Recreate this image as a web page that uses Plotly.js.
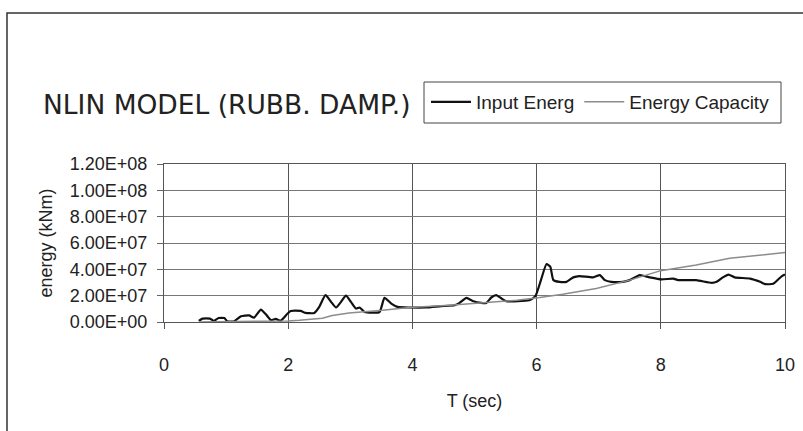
<!DOCTYPE html>
<html>
<head>
<meta charset="utf-8">
<script src="https://cdn.plot.ly/plotly-3.0.1.min.js"></script>
<style>html,body{margin:0;padding:0;background:#fff;}#chart{width:803px;height:431px;}</style>
</head>
<body>
<div id="chart"></div>
<script>
// Time (sec) and energy (kNm) for "Input Energ"
const tInput = [0.56,0.62,0.74,0.80,0.88,0.97,1.02,1.13,1.24,1.37,1.45,1.56,1.64,1.72,1.80,1.88,1.99,2.04,2.20,2.28,2.42,2.50,2.60,2.69,2.77,2.85,2.93,3.01,3.09,3.15,3.23,3.47,3.55,3.66,3.76,3.95,4.22,4.46,4.68,4.76,4.87,4.97,5.11,5.19,5.27,5.35,5.43,5.51,5.88,5.98,6.07,6.16,6.22,6.27,6.37,6.48,6.59,6.69,6.91,7.02,7.10,7.20,7.39,7.50,7.66,7.82,8.01,8.20,8.28,8.57,8.82,8.90,9.00,9.09,9.19,9.44,9.60,9.68,9.81,9.95,10.0];
const eInput = [0.8e6,2.6e6,2.6e6,0.8e6,3.0e6,3.0e6,0.6e6,0.6e6,4.3e6,5.0e6,3.3e6,9.4e6,5.8e6,1.5e6,2.3e6,1.0e6,6.4e6,8.4e6,8.4e6,6.9e6,6.9e6,11.5e6,20.4e6,15.3e6,11.0e6,15.3e6,20.0e6,15.3e6,10.2e6,11.0e6,7.6e6,7.6e6,18.3e6,14.0e6,11.5e6,11.0e6,11.0e6,12.0e6,12.7e6,14.5e6,18.3e6,16.0e6,14.5e6,14.5e6,18.6e6,20.4e6,18.0e6,15.8e6,16.5e6,19.6e6,31.8e6,44.0e6,42.0e6,31.8e6,30.5e6,30.5e6,33.9e6,34.9e6,33.9e6,35.6e6,31.8e6,30.5e6,30.5e6,31.8e6,35.6e6,33.9e6,32.3e6,33.0e6,31.8e6,31.8e6,29.7e6,30.5e6,33.9e6,36.0e6,33.9e6,33.0e6,30.5e6,28.8e6,29.0e6,34.9e6,36.0e6];

// Time (sec) and energy (kNm) for "Energy Capacity"
const tCap = [0.56,1.50,2.00,2.18,2.55,2.71,2.98,3.52,3.95,4.60,5.14,5.68,6.05,6.42,6.96,7.50,8.00,8.57,9.11,9.65,10.0];
const eCap = [0,0.3e6,0.8e6,1.3e6,2.8e6,5.0e6,6.9e6,8.9e6,11.0e6,12.7e6,14.5e6,16.5e6,18.6e6,21.1e6,25.5e6,31.8e6,39.0e6,43.3e6,48.4e6,50.9e6,52.7e6];

// Axis ticks
const xTickVals = [0,2,4,6,8,10];
const yTickVals = [0,2e7,4e7,6e7,8e7,1e8,1.2e8];
const yTickLabels = ["0.00E+00","2.00E+07","4.00E+07","6.00E+07","8.00E+07","1.00E+08","1.20E+08"];

const seriesNames = ["Input Energ","Energy Capacity"];
const chartTitle = "NLIN MODEL (RUBB. DAMP.)";
const xTitle = "T (sec)";
const yTitle = "energy (kNm)";

const W = 803, H = 431;
const M = {l:164, r:18, t:164, b:109};
const pw = W - M.l - M.r, ph = H - M.t - M.b;
const px = v => (v - M.l) / pw;
const py = v => (H - M.b - v) / ph;

const FONT = "Liberation Sans, Arial, sans-serif";
const INK = "#222";

const traces = [
  {x: tInput, y: eInput, name: seriesNames[0], type: "scatter", mode: "lines",
   line: {color: "#111", width: 2.2, shape: "spline", smoothing: 0.5}},
  {x: tCap, y: eCap, name: seriesNames[1], type: "scatter", mode: "lines",
   line: {color: "#8c8c8c", width: 1.5}}
];

const layout = {
  width: W, height: H,
  margin: M,
  paper_bgcolor: "#fff", plot_bgcolor: "#fff",
  font: {family: FONT, color: INK, size: 18},
  title: {text: chartTitle, xref: "container", yref: "container",
          x: 43 / W, xanchor: "left", y: 1 - 105 / H, yanchor: "middle",
          font: {family: "DejaVu Sans, sans-serif", size: 26.5, color: INK}},
  showlegend: true,
  legend: {orientation: "h", x: px(426), xanchor: "left", y: py(83), yanchor: "top",
           bgcolor: "rgba(0,0,0,0)", borderwidth: 0, itemwidth: 40,
           font: {family: FONT, size: 19, color: INK}, tracegroupgap: 0, itemclick: false},
  xaxis: {range: [0, 10], tickvals: xTickVals, ticktext: xTickVals.map(String),
          showgrid: true, gridcolor: "#555", gridwidth: 1,
          showline: true, linecolor: "#555", linewidth: 1, mirror: true,
          zeroline: false, ticks: "outside", ticklen: 6, tickcolor: "#555",
          ticklabelstandoff: 20, tickfont: {size: 18},
          title: {text: xTitle, standoff: 20, font: {size: 18}}, fixedrange: true},
  yaxis: {range: [0, 1.2e8], tickvals: yTickVals, ticktext: yTickLabels,
          showgrid: true, gridcolor: "#777", gridwidth: 1,
          showline: true, linecolor: "#555", linewidth: 1, mirror: true,
          zeroline: false, ticks: "outside", ticklen: 6, tickcolor: "#666",
          ticklabelstandoff: 6, tickfont: {size: 18},
          title: {text: yTitle, standoff: 12, font: {size: 18}}, fixedrange: true},
  shapes: [
    {type: "rect", xref: "paper", yref: "paper",
     x0: px(7), x1: px(815), y0: py(445), y1: py(13),
     line: {color: "#333", width: 1.5}, fillcolor: "rgba(0,0,0,0)", layer: "below"},
    {type: "rect", xref: "paper", yref: "paper",
     x0: px(424), x1: px(781), y0: py(123), y1: py(82),
     line: {color: "#444", width: 1}, fillcolor: "rgba(0,0,0,0)"}
  ]
};

Plotly.newPlot("chart", traces, layout, {displayModeBar: false, staticPlot: true});
</script>
</body>
</html>
